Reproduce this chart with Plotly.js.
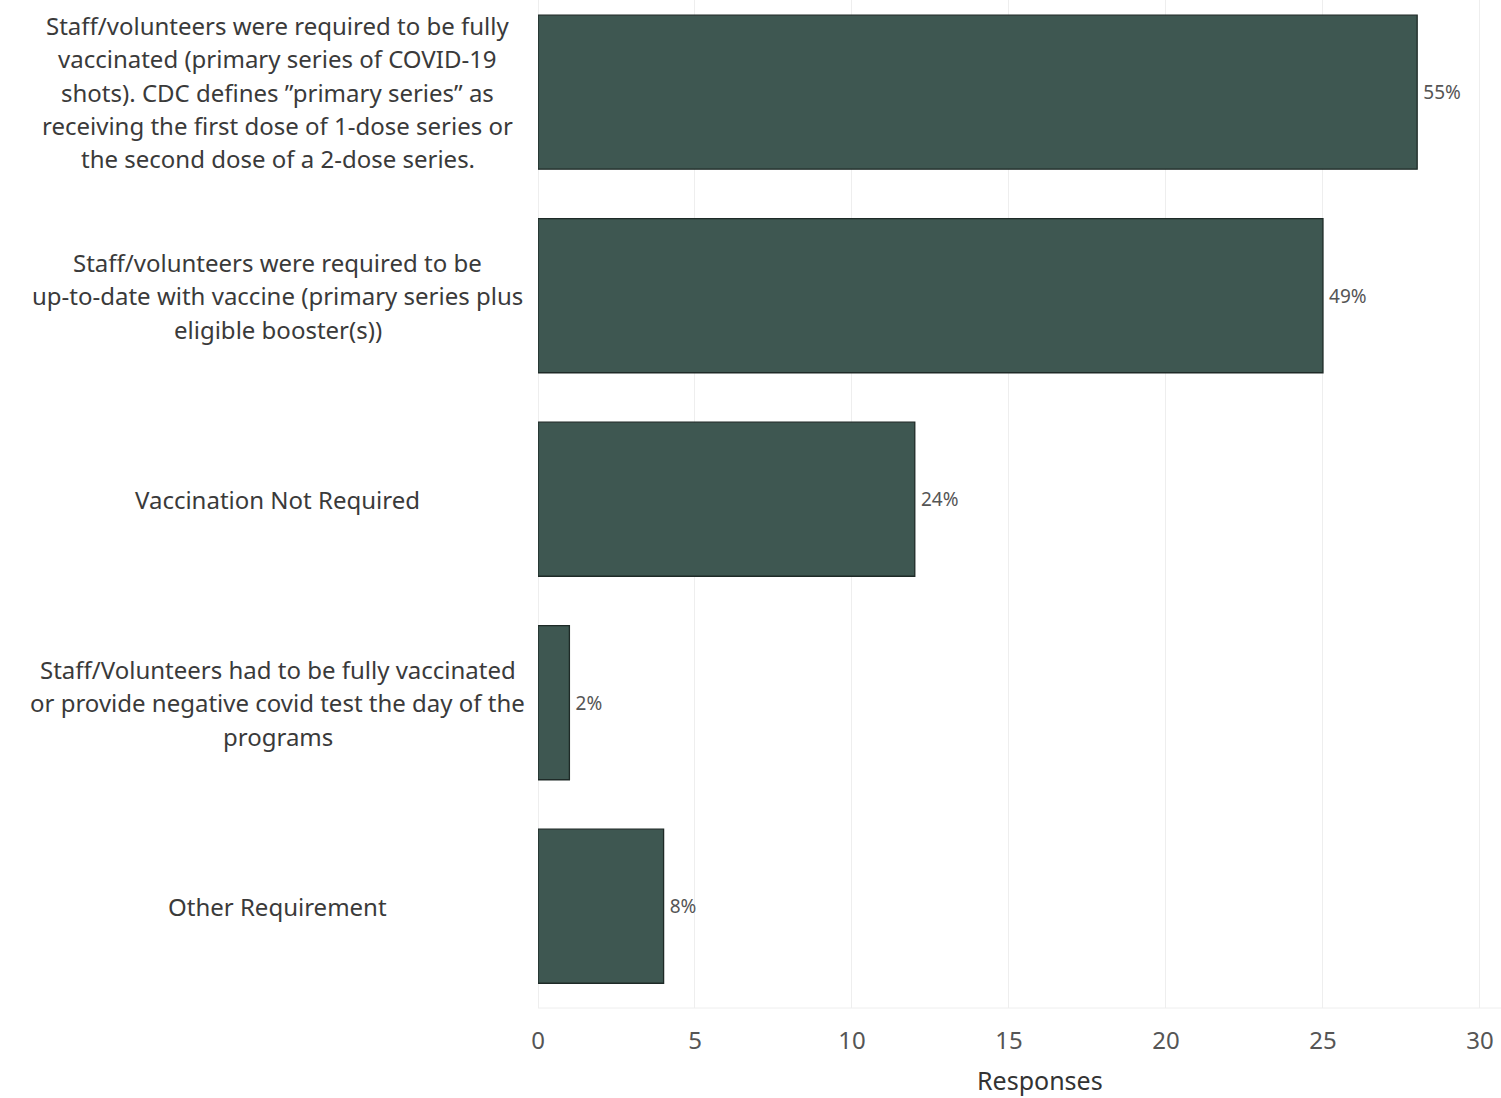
<!DOCTYPE html>
<html>
<head>
<meta charset="utf-8">
<script src="https://cdn.plot.ly/plotly-3.0.1.min.js"></script>
<style>html,body{margin:0;padding:0;background:#fff;}#chart{width:1501px;height:1098px;}</style>
</head>
<body>
<div id="chart"></div>
<script>
const categories = [
  "Staff/volunteers were required to be fully<br>vaccinated (primary series of COVID-19<br>shots). CDC defines ”primary series” as<br>receiving the first dose of 1-dose series or<br>the second dose of a 2-dose series.",
  "Staff/volunteers were required to be<br>up-to-date with vaccine (primary series plus<br>eligible booster(s))",
  "Vaccination Not Required",
  "Staff/Volunteers had to be fully vaccinated<br>or provide negative covid test the day of the<br>programs",
  "Other Requirement"
];
const responses = [28, 25, 12, 1, 4];
const percentLabels = ["55%", "49%", "24%", "2%", "8%"];
const xTicks = [0, 5, 10, 15, 20, 25, 30];

const labelFont = {family: "Noto Sans, sans-serif", size: 24, color: "#3a3a3a"};
const annotations = [];
categories.forEach((cat, idx) => {
  const lines = cat.split("<br>");
  const n = lines.length;
  lines.forEach((ln, i) => {
    annotations.push({
      xref: "paper", yref: "y", x: -0.27, y: idx,
      text: ln, showarrow: false, xanchor: "center", yanchor: "middle",
      yshift: -(i - (n - 1) / 2) * 33.3,
      font: labelFont
    });
  });
});
annotations.push({
  xref: "paper", yref: "paper", x: 0.521, y: 0, yshift: -72, borderpad: 0,
  text: "Responses", showarrow: false, xanchor: "center", yanchor: "middle",
  font: {family: "Noto Sans, sans-serif", size: 25, color: "#333333"}
});

const trace = {
  type: "bar", orientation: "h",
  x: responses, y: categories.map((c, i) => i),
  width: 0.757,
  marker: {color: "#3e5751", line: {color: "#1e2a27", width: 1.3}},
  text: percentLabels, texttemplate: "\u2009%{text}", textposition: "outside", cliponaxis: false,
  textfont: {family: "Noto Sans, sans-serif", size: 19, color: "#555555"},
  hoverinfo: "none"
};

const layout = {
  width: 1501, height: 1098,
  margin: {l: 538, r: 0, t: 0, b: 90},
  paper_bgcolor: "#ffffff", plot_bgcolor: "#ffffff",
  showlegend: false,
  xaxis: {
    range: [0, 30.67], tickvals: xTicks, ticktext: xTicks.map(String),
    showgrid: true, gridcolor: "#eeeeee", gridwidth: 1,
    zeroline: true, zerolinecolor: "#eeeeee", zerolinewidth: 1,
    showline: false, ticks: "", ticklabelstandoff: 16,
    tickfont: {family: "Noto Sans, sans-serif", size: 24, color: "#555555"}
  },
  yaxis: {
    range: [4.5, -0.453], showticklabels: false, showgrid: false, zeroline: false,
    tickvals: [0, 1, 2, 3, 4]
  },
  shapes: [{type: "line", xref: "paper", yref: "paper", x0: 0, x1: 1, y0: 0, y1: 0, line: {color: "#eeeeee", width: 1}}],
  annotations: annotations,
  bargap: 0.24
};

Plotly.newPlot("chart", [trace], layout, {displayModeBar: false, staticPlot: true});
</script>
</body>
</html>
